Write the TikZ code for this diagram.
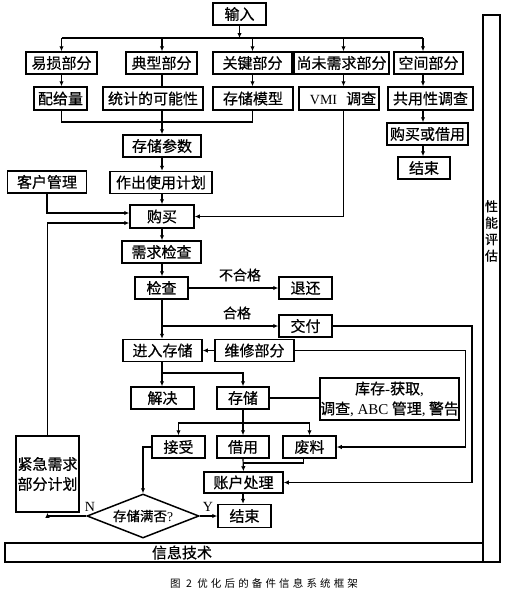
\documentclass[tikz,border=0pt]{standalone}
\usepackage{fontspec}
\setmainfont{Liberation Serif}
\newfontfamily\cjk[FakeBold=0.6]{Noto Sans CJK SC}
\newfontfamily\capfont[LetterSpace=30]{Noto Sans CJK SC}
\usetikzlibrary{arrows.meta,shapes.geometric}
\begin{document}
\begin{tikzpicture}[x=1pt,y=-1pt,
  bx/.style={draw,line width=1.5pt,inner sep=0pt,minimum height=22pt,font=\cjk\fontsize{15}{18}\selectfont},
  wd/.style={minimum width=#1pt},
  ht/.style={minimum height=#1pt},
  ln/.style={line width=1.2pt},
  arr/.style={ln,-{Latex[length=5pt,width=4.5pt]}},
  lbl/.style={font=\cjk\fontsize{14}{16}\selectfont,inner sep=0pt},
  ltr/.style={font=\rmfamily\fontsize{14}{16}\selectfont,inner sep=0pt}]
\useasboundingbox (0,0) rectangle (509,592);
% boxes
\node[bx,wd=53] (in) at (239.5,14) {输入};
\node[bx,wd=71] (ys) at (61.5,63) {易损部分};
\node[bx,wd=71] (dx) at (161.5,63) {典型部分};
\node[bx,wd=79] (gj) at (252.5,63) {关键部分};
\node[bx,wd=95] (sw) at (341.5,63) {尚未需求部分};
\node[bx,wd=69] (kj) at (428.5,63) {空间部分};
\node[bx,wd=53,ht=23] (pg) at (60.5,98.5) {配给量};
\node[bx,wd=100,ht=23] (tj) at (153,98.5) {统计的可能性};
\node[bx,wd=80,ht=23] (cm) at (253,98.5) {存储模型};
\node[bx,wd=80,ht=23] (vmi) at (339,98.5) {\hspace{8pt}{\rmfamily\fontsize{14}{16}\selectfont VMI}\hspace{9pt}调查};
\node[bx,wd=85,ht=23] (gy) at (430.5,98.5) {共用性调查};
\node[bx,wd=81] (gm2) at (427.5,134) {购买或借用};
\node[bx,wd=52] (end1) at (424,168) {结束};
\node[bx,wd=78] (cc) at (162,146) {存储参数};
\node[bx,wd=102] (zc) at (161,182.5) {作出使用计划};
\node[bx,wd=79] (kh) at (47,182) {客户管理};
\node[bx,wd=64,ht=23] (gm) at (162,216.5) {购买};
\node[bx,wd=79] (xq) at (161.5,252) {需求检查};
\node[bx,wd=53] (jc) at (161.5,288) {检查};
\node[bx,wd=53] (th) at (305.5,288) {退还};
\node[bx,wd=53] (jf) at (305.5,326) {交付};
\node[bx,wd=79] (jr) at (162.5,350.5) {进入存储};
\node[bx,wd=79] (wx) at (254.5,350.5) {维修部分};
\node[bx,wd=63] (jj) at (162.5,398) {解决};
\node[bx,wd=52] (cu) at (243,398) {存储};
\node[bx,wd=139,ht=42,align=center,font=\cjk\fontsize{15}{20}\selectfont] (kc) at (389.5,399) {库存{\rmfamily -}获取{\rmfamily ,}\\调查{\rmfamily , ABC} 管理{\rmfamily ,} 警告};
\node[bx,wd=53] (js) at (178.5,447) {接受};
\node[bx,wd=52] (jy) at (243,447) {借用};
\node[bx,wd=53] (fl) at (309.5,447) {废料};
\node[bx,wd=79,ht=21] (zh) at (243.5,482.5) {账户处理};
\node[bx,wd=53,ht=23] (end2) at (244.5,516) {结束};
\node[bx,diamond,minimum width=112pt,minimum height=44pt,aspect=2.5,font=\cjk\fontsize{13.5}{16}\selectfont] (dm) at (143,516) {存储满否{\rmfamily ?}};
\node[bx,wd=63,ht=76,align=center,font=\cjk\fontsize{15}{20}\selectfont] (jx) at (47.5,474) {紧急需求\\部分计划};
\node[bx,wd=478,ht=19] (xx) at (244,552.5) {};
\node[lbl,font=\cjk\fontsize{15}{18}\selectfont] (xxt) at (182,552.5) {信息技术};
\node[bx,wd=17,ht=547] (xn) at (491.5,288.5) {};
\node[lbl,align=center,font=\cjk\fontsize{13}{16.5}\selectfont] (xnt) at (491.5,231) {性\\能\\评\\估};
% labels
\node[lbl] (lb1) at (240,275) {不合格};
\node[lbl] (lb2) at (237,313) {合格};
\node[ltr] (lN) at (90,507) {N};
\node[ltr] (lY) at (208,507) {Y};
\node[font=\capfont\fontsize{10.5}{12}\selectfont,inner sep=0pt] (cap) at (264,583) {图 2 优化后的备件信息系统框架};
% helper coordinates
\coordinate (bus) at (239.5,38);
\coordinate (mx) at (162,0);
\coordinate (kx) at (423,0);
\coordinate (vx) at (343.5,0);
\coordinate (b2) at (162,122);
\coordinate (b3) at (162,373);
\coordinate (b4) at (243,423);
\coordinate (b5) at (243,463);
\coordinate (r1) at (472,0);
\coordinate (r2) at (465.5,0);
% connectors
\draw[arr] (in) -- (bus);
\draw[ln] (ys.north |- bus) -- (kx |- bus);
\foreach \n in {ys,gj} \draw[arr] (\n.north |- bus) -- (\n.north);
\draw[arr] (mx |- bus) -- (mx |- dx.north);
\draw[arr] (vx |- bus) -- (vx |- sw.north);
\draw[arr] (kx |- bus) -- (kx |- kj.north);
\draw[arr] (ys.south) -- (ys.south |- pg.north);
\draw[ln] (mx |- dx.south) -- (mx |- tj.north);
\draw[arr] (gj.south) -- (gj.south |- cm.north);
\draw[arr] (vx |- sw.south) -- (vx |- vmi.north);
\draw[arr] (kx |- kj.south) -- (kx |- gy.north);
\draw[arr] (kx |- gy.south) -- (kx |- gm2.north);
\draw[arr] (kx |- gm2.south) -- (kx |- end1.north);
\draw[ln] (ys.south |- pg.south) |- (b2) -| (gj.south |- cm.south);
\draw[arr] (mx |- tj.south) -- (mx |- cc.north);
\draw[arr] (mx |- cc.south) -- (mx |- zc.north);
\draw[arr] (mx |- zc.south) -- (mx |- gm.north);
\draw[arr] (kh.south) |- ([yshift=3.5pt]gm.west);
\draw[arr] (jx.north) |- ([yshift=-6.5pt]gm.west);
\draw[arr] (vx |- vmi.south) |- (gm.east);
\draw[arr] (mx |- gm.south) -- (mx |- xq.north);
\draw[arr] (mx |- xq.south) -- (mx |- jc.north);
\draw[arr] (jc.east) -- (jc.east -| th.west);
\draw[arr] (mx |- jc.south) -- (mx |- jr.north);
\draw[arr] (mx |- jf.west) -- (jf.west);
\draw[arr] (jf.east) -- (r1 |- jf.east) |- (zh.east);
\draw[arr] (wx.east) -- (r2 |- wx.east) |- (fl.east);
\draw[arr] (wx.west) -- (wx.west -| jr.east);
\draw[arr] (mx |- jr.south) -- (mx |- jj.north);
\draw[arr] (b3) -| (cu.north);
\draw[ln] (cu.east) -- (cu.east -| kc.west);
\draw[ln] (cu.south) -- (b4);
\draw[arr] (b4) -| (js.north);
\draw[arr] (b4) -- (jy.north);
\draw[arr] (b4) -| (fl.north);
\draw[ln] ([xshift=-6pt]fl.south) |- (b5);
\draw[arr] (jy.south) -- (zh.north);
\draw[arr] (zh.south -| b5) -- (end2.north -| b5);
\draw[arr] (js.west) -| (dm.north);
\draw[arr] (dm.east) -- (dm.east -| end2.west);
\draw[arr] (dm.west) -| (jx.south);
\end{tikzpicture}
\end{document}
